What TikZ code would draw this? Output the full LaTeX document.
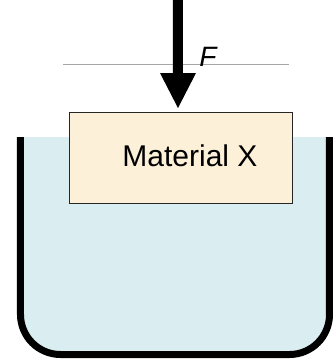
\documentclass[tikz,border=0pt]{standalone}
\usepackage{fontspec}
\setmainfont{Liberation Sans}
\definecolor{water}{HTML}{DAEDF0}
\definecolor{cream}{HTML}{FDF0D8}
\begin{document}
\begin{tikzpicture}[x=1pt,y=-1pt,
  wall/.style={line width=7pt,line join=round},
  matbox/.style={draw=black!85,line width=0.8pt,fill=cream,inner sep=0pt,minimum width=223pt,minimum height=91pt},
  lbl/.style={font=\fontsize{30}{32}\selectfont,inner sep=0pt,anchor=base}]
\useasboundingbox (0,0) rectangle (333,360);
% water
\fill[water,rounded corners=40pt] (20.5,137) -- (20.5,354.5) -- (329.5,354.5) -- (329.5,137) -- cycle;
\fill[water] (20.5,137) rectangle (329.5,220);
% container
\draw[wall,rounded corners=40pt] (20.5,137) -- (20.5,354.5) -- (329.5,354.5) -- (329.5,137);
% box
\node[matbox] (box) at (180.5,157.5) {};
\node[lbl] (mx) at (190,166.7) {Material X};
% reference line
\coordinate (la) at (63,64);
\coordinate (lb) at (289,64);
\draw[gray!70,line width=0.7pt] (la) -- (lb);
% force arrow
\coordinate (tip) at (178,108);
\fill[black] (173,0) -- (183,0) -- (183,73) -- (196,73) -- (tip) -- (160,73) -- (173,73) -- cycle;
\node[font=\itshape\fontsize{28}{30}\selectfont,inner sep=0pt,anchor=base] (F) at (208,66.7) {F};
\end{tikzpicture}
\end{document}
